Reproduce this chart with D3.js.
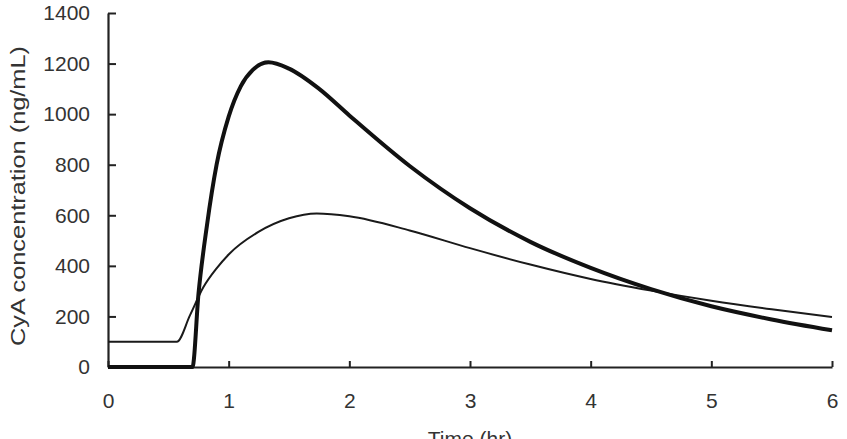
<!DOCTYPE html>
<html>
<head>
<meta charset="utf-8">
<script src="https://cdn.jsdelivr.net/npm/d3@7"></script>
<style>
  body { margin: 0; background: #fff; }
  svg { display: block; }
  text { font-family: "Liberation Sans", Arial, sans-serif; fill: #333; }
</style>
</head>
<body>
<svg width="847" height="439"></svg>
<script>
// thick curve (times in hr, CyA ng/mL)
var thickTimes  = [0, 0.70, 0.75, 0.82, 0.9, 1.0, 1.1, 1.2, 1.33, 1.5, 1.75, 2.0, 2.5, 3.0, 3.5, 4.0, 4.5, 5.0, 5.5, 6.0];
var thickValues = [0, 0, 290, 560, 800, 990, 1110, 1175, 1205, 1180, 1100, 995, 795, 628, 495, 392, 308, 240, 188, 145];

// thin curve
var thinTimes  = [0, 0.57, 0.68, 0.79, 0.9, 1.0, 1.25, 1.5, 1.73, 2.0, 2.5, 3.0, 3.5, 4.0, 4.5, 5.0, 5.5, 6.0];
var thinValues = [100, 100, 205, 315, 390, 445, 535, 588, 607, 596, 540, 470, 405, 348, 302, 262, 228, 198];

var xTicks = [0, 1, 2, 3, 4, 5, 6];
var yTicks = [0, 200, 400, 600, 800, 1000, 1200, 1400];

var svg = d3.select("svg"),
    margin = {top: 13, left: 108};

var g = svg.append("g").attr("transform", "translate(" + margin.left + "," + margin.top + ")");

var x = d3.scaleLinear().domain([0, 6]).range([0, 724]);
var y = d3.scaleLinear().domain([0, 1400]).range([354, 0]);

var line = d3.line()
    .x(function(d) { return x(d[0]); })
    .y(function(d) { return y(d[1]); })
    .curve(d3.curveMonotoneX);

var thick = d3.zip(thickTimes, thickValues),
    thin = d3.zip(thinTimes, thinValues);

// axes, ticks point inwards
var xAxis = g.append("g")
    .attr("transform", "translate(0," + y(0) + ")")
    .call(d3.axisBottom(x).tickValues(xTicks).tickFormat(d3.format("d"))
      .tickSizeInner(-6).tickSizeOuter(0).tickPadding(26));

var yAxis = g.append("g")
    .call(d3.axisLeft(y).tickValues(yTicks).tickFormat(d3.format("d"))
      .tickSizeInner(-8).tickSizeOuter(0).tickPadding(18));

[xAxis, yAxis].forEach(function(a) {
  a.select(".domain").attr("stroke", "#222").attr("stroke-width", 2.2);
  a.selectAll(".tick line").attr("stroke", "#222").attr("stroke-width", 2);
  a.selectAll(".tick text").style("font-size", "21px").attr("fill", "#333");
});

g.append("path")
    .datum(thin)
    .attr("fill", "none")
    .attr("stroke", "#1a1a1a")
    .attr("stroke-width", 2)
    .attr("d", line);

g.append("path")
    .datum(thick)
    .attr("fill", "none")
    .attr("stroke", "#111")
    .attr("stroke-width", 4)
    .attr("stroke-linejoin", "round")
    .attr("d", line);

// axis titles
svg.append("text")
    .attr("transform", "translate(25,196) rotate(-90)")
    .attr("text-anchor", "middle")
    .attr("textLength", 300)
    .attr("lengthAdjust", "spacingAndGlyphs")
    .style("font-size", "21px")
    .text("CyA concentration (ng/mL)");

svg.append("text")
    .attr("x", 470)
    .attr("y", 446)
    .attr("text-anchor", "middle")
    .style("font-size", "21px")
    .text("Time (hr)");
</script>
</body>
</html>
